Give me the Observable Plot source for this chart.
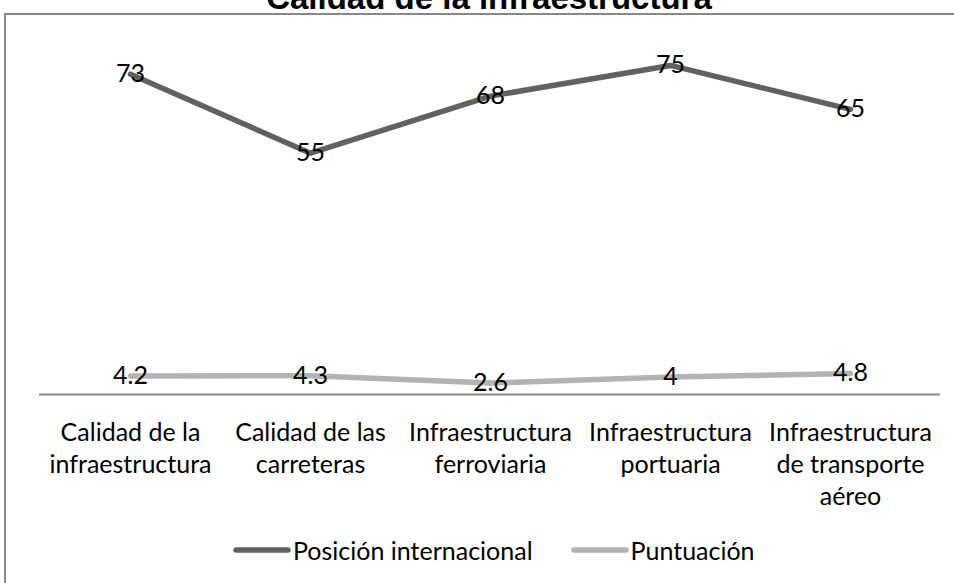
<!DOCTYPE html>
<html><head><meta charset="utf-8">
<script src="https://cdn.jsdelivr.net/npm/d3@7"></script>
<script src="https://cdn.jsdelivr.net/npm/@observablehq/plot@0.6"></script>
<style>
body{margin:0;background:#fff;}
#wrap{position:relative;width:954px;height:583px;overflow:hidden;background:#fff;font-family:Lato,"Open Sans",sans-serif;}
#frame{position:absolute;left:4px;top:13px;width:1000px;height:700px;border:2px solid #888;box-sizing:border-box;}
#title{position:absolute;left:0;width:978px;top:-19px;text-align:center;font:bold 33px "Liberation Sans",Arial,sans-serif;line-height:1;color:#000;white-space:nowrap;}
#plot{position:absolute;left:0;top:0;}
#legend{position:absolute;left:233px;top:535px;height:30px;display:flex;align-items:center;font-size:25px;color:#000;white-space:nowrap;}
#legend .item{display:flex;align-items:center;margin-right:38px;}
#legend svg{margin-right:2px;}
</style>
</head><body>
<div id="wrap">
  <div id="frame"></div>
  <div id="title">Calidad de la infraestructura</div>
  <div id="plot"></div>
  <div id="legend"></div>
</div>
<script>
const categories = [
  "Calidad de la\ninfraestructura",
  "Calidad de las\ncarreteras",
  "Infraestructura\nferroviaria",
  "Infraestructura\nportuaria",
  "Infraestructura\nde transporte\naéreo"
];
const posicion = [73, 55, 68, 75, 65];
const puntuacion = [4.2, 4.3, 2.6, 4, 4.8];
const seriesNames = ["Posición internacional", "Puntuación"];
const seriesColors = ["#616161", "#b3b3b3"];

const rows = [];
categories.forEach((c, i) => {
  rows.push({cat: c, series: seriesNames[0], value: posicion[i]});
  rows.push({cat: c, series: seriesNames[1], value: puntuacion[i]});
});

const chart = Plot.plot({
  width: 954,
  height: 583,
  marginLeft: 39,
  marginRight: 14,
  marginTop: 43,
  marginBottom: 189,
  style: {fontFamily: "Lato, 'Open Sans', sans-serif", background: "transparent", color: "#000"},
  x: {type: "point", domain: categories, padding: 0.5, label: null},
  y: {domain: [0, 80], axis: null},
  color: {domain: seriesNames, range: seriesColors},
  marks: [
    Plot.ruleY([0], {stroke: "#888", strokeWidth: 2}),
    Plot.axisX({tickSize: 0, tickPadding: 24, fontSize: 25, lineHeight: 1.28, fill: "#000", label: null}),
    Plot.line(rows, {x: "cat", y: "value", z: "series", stroke: "series", strokeWidth: 5.5, strokeLinejoin: "round", strokeLinecap: "round"}),
    Plot.text(rows, {x: "cat", y: "value", text: d => String(d.value), fontSize: 25, fill: "#000"})
  ]
});
document.getElementById("plot").appendChild(chart);

const legend = d3.select("#legend");
seriesNames.forEach((s, i) => {
  const it = legend.append("div").attr("class", "item");
  const sv = it.append("svg").attr("width", 58).attr("height", 10);
  sv.append("line").attr("x1", 3).attr("x2", 55).attr("y1", 5).attr("y2", 5)
    .attr("stroke", seriesColors[i]).attr("stroke-width", 5.5).attr("stroke-linecap", "round");
  it.append("span").text(s);
});
</script>
</body></html>
